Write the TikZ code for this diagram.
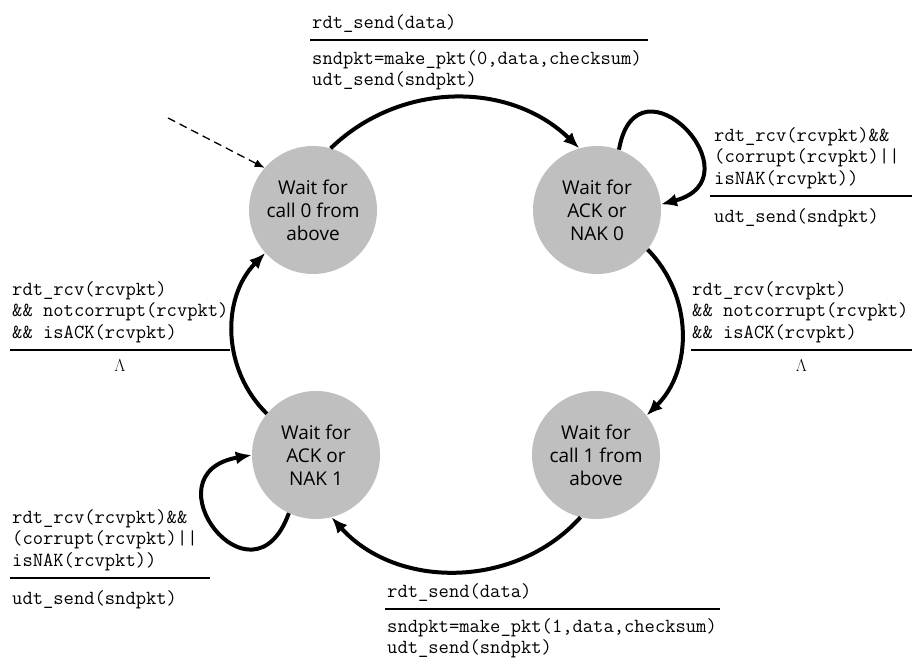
\documentclass[tikz,border=0pt]{standalone}
\usepackage{fontspec}
\newfontfamily\statefont{Open Sans}
\usetikzlibrary{arrows.meta, positioning}

\begin{document}
\begin{tikzpicture}[x=1pt, y=1pt,
  state/.style={circle, fill=black!25, minimum size=128pt, inner sep=0pt, align=center,
    font=\statefont\fontsize{19}{23}\selectfont},
  guard/.style={align=left, inner sep=0pt, font=\ttfamily\addfontfeatures{FakeBold=0.6}\fontsize{20}{21.5}\selectfont},
  trans/.style={->, line width=4pt, >={Latex[length=16pt,width=13pt]}},
  bar/.style={line width=1.2pt},
  lam/.style={inner sep=0pt, font=\fontsize{18}{18}\selectfont}]
\useasboundingbox (0,0) rectangle (912,663);
% States
\node[state] (wait0) at (313,453) {Wait for\\call 0 from\\above};
\node[state] (ack0) at (597,453) {Wait for\\ACK or\\NAK 0};
\node[state] (wait1) at (596,208) {Wait for\\call 1 from\\above};
\node[state] (ack1) at (316,208) {Wait for\\ACK or\\NAK 1};
% Initial state
\coordinate (init) at (168,545);
\draw[dashed, dash pattern=on 8pt off 5pt, line width=1.3pt, -{Latex[length=10pt,width=8pt]}] (init) -- (wait0.139);
% Arrows
\draw[trans] (wait0.74) to[bend left=44] (ack0.106);
\draw[trans] (ack0.-38) to[bend left=45] (wait1.38);
\draw[trans] (wait1.256) to[bend left=48] (ack1.284);
\draw[trans] (ack1.140) to[bend left=45] (wait0.222);
% Self loops
\draw[trans] (ack0.70) to[out=80, in=15, looseness=3.8] (ack0.5);
\draw[trans] (ack1.245) to[out=250, in=190, looseness=4] (ack1.180);
% Top label
\coordinate (s0a) at (310,623);
\coordinate (s0b) at (648,623);
\draw[bar] (s0a) -- (s0b);
\node[guard, above right=7pt and 2pt of s0a] (s0ev) {rdt\_send(data)};
\node[guard, below right=10pt and 2pt of s0a] (s0act) {sndpkt=make\_pkt(0,data,checksum)\\udt\_send(sndpkt)};
% Top right label
\coordinate (n0a) at (710,467);
\coordinate (n0b) at (912,467);
\draw[bar] (n0a) -- (n0b);
\node[guard, above right=7pt and 4pt of n0a] (n0ev) {rdt\_rcv(rcvpkt)\&\&\\(corrupt(rcvpkt)||\\isNAK(rcvpkt))};
\node[guard, below right=12pt and 4pt of n0a] (n0act) {udt\_send(sndpkt)};
% Right label
\coordinate (a0a) at (691,313);
\coordinate (a0b) at (912,313);
\draw[bar] (a0a) -- node[lam, below=9pt] (a0act) {$\Lambda$} (a0b);
\node[guard, above right=7pt and 1pt of a0a] (a0ev) {rdt\_rcv(rcvpkt)\\\&\& notcorrupt(rcvpkt)\\\&\& isACK(rcvpkt)};
% Left label
\coordinate (a1a) at (10,313);
\coordinate (a1b) at (230,313);
\draw[bar] (a1a) -- node[lam, below=9pt] (a1act) {$\Lambda$} (a1b);
\node[guard, above right=7pt and 2pt of a1a] (a1ev) {rdt\_rcv(rcvpkt)\\\&\& notcorrupt(rcvpkt)\\\&\& isACK(rcvpkt)};
% Bottom left label
\coordinate (n1a) at (10,85);
\coordinate (n1b) at (210,85);
\draw[bar] (n1a) -- (n1b);
\node[guard, above right=7pt and 2pt of n1a] (n1ev) {rdt\_rcv(rcvpkt)\&\&\\(corrupt(rcvpkt)||\\isNAK(rcvpkt))};
\node[guard, below right=12pt and 2pt of n1a] (n1act) {udt\_send(sndpkt)};
% Bottom label
\coordinate (s1a) at (385,54);
\coordinate (s1b) at (720,54);
\draw[bar] (s1a) -- (s1b);
\node[guard, above right=7pt and 2pt of s1a] (s1ev) {rdt\_send(data)};
\node[guard, below right=9pt and 2pt of s1a] (s1act) {sndpkt=make\_pkt(1,data,checksum)\\udt\_send(sndpkt)};
\end{tikzpicture}
\end{document}
